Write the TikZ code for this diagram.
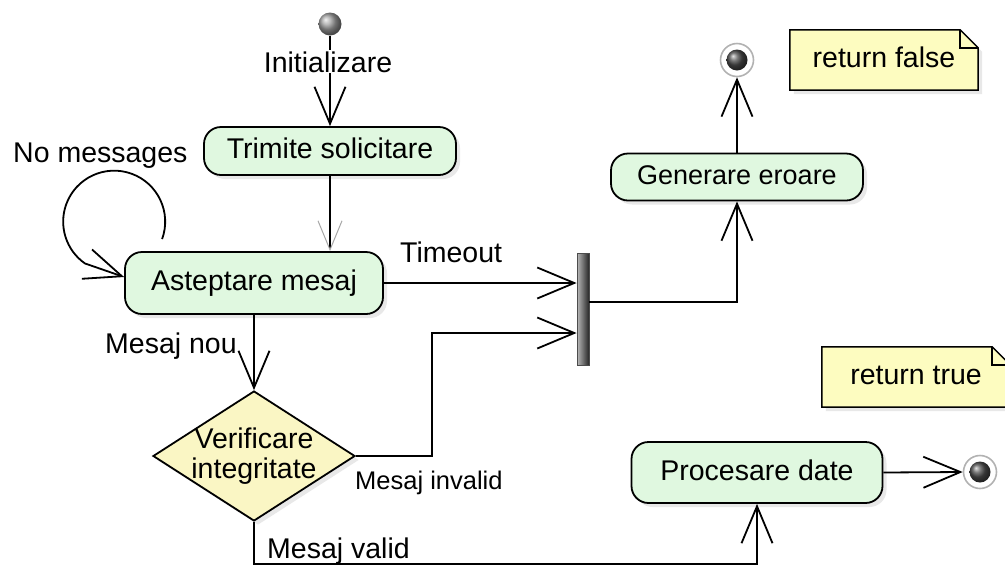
\documentclass[tikz,border=0pt]{standalone}
\usepackage{fontspec}
\setmainfont{Liberation Sans}
\usetikzlibrary{arrows.meta,shapes.geometric,shadows,calc}
\pgfdeclarelayer{background}
\pgfsetlayers{background,main}
\definecolor{actfill}{RGB}{224,248,224}
\definecolor{notefill}{RGB}{253,252,192}
\definecolor{decfill}{RGB}{250,246,196}
\begin{document}
\begin{tikzpicture}[x=1pt,y=-1pt,
  big/.style={font=\fontsize{28.5pt}{30pt}\selectfont},
  mid/.style={font=\fontsize{27pt}{30pt}\selectfont},
  small/.style={font=\fontsize{25.5pt}{30pt}\selectfont},
  shad/.style={drop shadow={opacity=0.18, shadow xshift=4pt, shadow yshift=-4pt}},
  act/.style={draw, line width=1.8pt, rounded corners=17pt, fill=actfill,
    text height=21pt, text depth=6pt, inner sep=0pt, shad},
  conn/.style={line width=1.8pt},
  arr/.style={conn, -{Straight Barb[length=37pt,width=31pt]}},
  garr/.style={conn, -{Straight Barb[length=29pt,width=24pt,color=gray!70,line width=1pt 0]}},
  lbl/.style={big, anchor=base west, inner sep=0pt},
  notebox/.style={big, minimum width=188pt, minimum height=60pt, inner sep=0pt,
    text height=21pt, text depth=6pt},
  endring/.style={circle, draw=gray!60, line width=1.6pt, fill=white, minimum size=33pt, inner sep=0pt},
  endball/.style={circle, ball color=gray!60!black, minimum size=21pt, inner sep=0pt}
]
\useasboundingbox (0,0) rectangle (1005,566);

% activities
\node[act, big, minimum width=252pt, minimum height=48pt] (trim) at (330,151) {Trimite solicitare};
\node[act, big, minimum width=258pt, minimum height=62pt] (wait) at (254,283) {Asteptare mesaj};
\node[act, mid, minimum width=252pt, minimum height=47pt] (gen) at (737,177) {Generare eroare};
\node[act, big, minimum width=251pt, minimum height=61pt] (proc) at (757,472.5) {Procesare date};

% decision
\node[diamond, draw, line width=1.8pt, fill=decfill, minimum width=202pt,
  minimum height=130pt, inner sep=0pt, shad] (chk) at (254,456) {};
\node[big, align=center, inner sep=0pt] (lchk) at (254,456) {Verificare\\integritate};

% join bar
\node[rectangle, draw=black!70, line width=0.8pt, left color=gray!55, right color=black!85,
  minimum width=12pt, minimum height=112pt, inner sep=0pt] (bar) at (583,309) {};

% start / end
\node[circle, ball color=gray!75, minimum size=23pt, inner sep=0pt] (start) at (330,24) {};
\node[endring] (end1) at (737,60) {};
\node[endball] (end1b) at (end1) {};
\node[endring] (end2) at (980,472) {};
\node[endball] (end2b) at (end2) {};

% notes
\node[notebox] (n1) at (884,60) {return false};
\node[notebox] (n2) at (916,377) {return true};
\begin{pgfonlayer}{background}
\foreach \n in {n1,n2}{
  \draw[line width=1.5pt, fill=notefill, shad]
    (\n.north west) -- ($(\n.north east)+(-18,0)$) -- ($(\n.north east)+(0,18)$)
    -- (\n.south east) -- (\n.south west) -- cycle;
  \draw[line width=1.5pt] ($(\n.north east)+(-18,0)$) -- ($(\n.north east)+(-18,18)$)
    -- ($(\n.north east)+(0,18)$);
}
\end{pgfonlayer}

% coordinates for bends
\coordinate (j1) at (432,333);
\coordinate (j2) at (0,302);
\coordinate (j3) at (0,564);
\coordinate (loopend) at ($(wait.west)+(0,-6)$);
\coordinate (loopstart) at ($(wait.north west)+(38,-12)$);

% connectors
\draw[arr] (start) -- (trim.north);
\draw[garr] (trim.south) -- (trim.south |- wait.north);
\draw[arr] (loopstart) arc[start angle=20, end angle=-235, radius=51] -- (loopend);
\draw[arr] (wait.east) -- (wait.east -| bar.west);
\draw[arr] (chk.east) -| (j1) -- (j1 -| bar.west);
\draw[arr] (bar.east |- j2) -| (gen.south);
\draw[arr] (gen.north) -- (end1.south);
\draw[arr] (wait.south) -- (chk.north);
\draw[arr] (chk.south) -- (chk.south |- j3) -| (proc.south);
\draw[arr] (proc.east) -- (end2.west);

% labels
\node[big, anchor=base, fill=white, inner sep=1pt] (linit) at (328,72) {Initializare};
\node[lbl] (lnomsg) at (13,162) {No messages};
\node[lbl] (ltime) at (400,262) {Timeout};
\node[lbl] (lnou) at (105,353) {Mesaj nou};
\node[lbl, small] (linv) at (355,489) {Mesaj invalid};
\node[lbl] (lval) at (267,558) {Mesaj valid};
\end{tikzpicture}
\end{document}
